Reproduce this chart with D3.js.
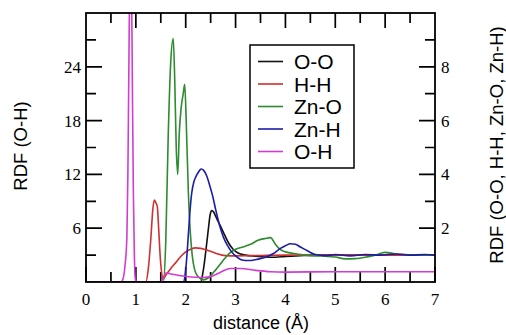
<!DOCTYPE html>
<html>
<head>
<meta charset="utf-8">
<script src="https://cdn.jsdelivr.net/npm/d3@7"></script>
<style>
  body { margin: 0; background: #fff; }
  svg { display: block; }
</style>
</head>
<body>
<div id="chart"></div>
<script>
// RDF curves (distance in Å)
var ohR = [0, 0.70, 0.74, 0.78, 0.82, 0.84, 0.86, 0.88, 0.91, 0.93, 0.95, 0.97, 0.99, 1.02, 1.50, 1.55, 1.60, 1.70, 1.90, 2.10, 2.30, 2.50, 2.70, 2.90, 3.10, 3.40, 3.70, 4.00, 5.00, 6.00, 7.00];
var ohG = [0, 0, 0.3, 1.7, 5, 12, 24, 34, 34, 22, 10, 3, 0.3, 0, 0, 0.5, 1.0, 0.9, 0.7, 0.55, 0.5, 0.6, 1.1, 1.5, 1.5, 1.3, 1.15, 1.1, 1.15, 1.15, 1.15];

var hhR = [0, 1.20, 1.25, 1.30, 1.34, 1.37, 1.40, 1.43, 1.46, 1.49, 1.52, 1.55, 1.60, 1.70, 1.80, 1.90, 2.00, 2.10, 2.20, 2.30, 2.45, 2.60, 2.80, 3.00, 3.30, 3.60, 4.00, 5.00, 6.00, 7.00];
var hhG = [0, 0, 0.5, 1.6, 2.7, 3.05, 2.95, 2.8, 1.9, 0.9, 0.3, 0.1, 0.25, 0.5, 0.72, 0.95, 1.12, 1.22, 1.27, 1.25, 1.17, 1.07, 0.98, 0.97, 0.98, 0.99, 1.0, 1.0, 1.0, 1.0];

var znoR = [0, 1.55, 1.60, 1.65, 1.70, 1.75, 1.78, 1.81, 1.84, 1.87, 1.91, 1.95, 1.98, 2.01, 2.05, 2.09, 2.13, 2.18, 2.25, 2.35, 2.45, 2.60, 2.75, 2.90, 3.00, 3.15, 3.30, 3.45, 3.60, 3.70, 3.80, 3.90, 4.00, 4.20, 4.40, 4.60, 4.80, 5.00, 5.20, 5.40, 5.60, 5.80, 6.00, 6.20, 6.40, 6.70, 7.00];
var znoG = [0, 0, 1.5, 5.5, 8.2, 9.05, 7.5, 5.0, 4.0, 5.5, 6.5, 7.0, 7.35, 6.0, 3.5, 1.9, 1.0, 0.45, 0.2, 0.08, 0.15, 0.45, 0.8, 1.1, 1.22, 1.3, 1.4, 1.55, 1.62, 1.65, 1.4, 1.2, 1.12, 1.05, 1.0, 0.97, 0.96, 0.93, 0.86, 0.87, 0.92, 1.0, 1.1, 1.05, 1.02, 1.0, 1.0];

var znhR = [0, 1.95, 2.00, 2.04, 2.08, 2.12, 2.16, 2.20, 2.26, 2.31, 2.36, 2.42, 2.48, 2.54, 2.60, 2.68, 2.76, 2.84, 2.92, 3.00, 3.10, 3.20, 3.30, 3.45, 3.60, 3.75, 3.90, 4.00, 4.10, 4.20, 4.30, 4.45, 4.60, 4.80, 5.00, 5.30, 5.60, 5.90, 6.20, 6.50, 6.80, 7.00];
var znhG = [0, 0, 0.45, 1.4, 2.5, 3.3, 3.7, 3.9, 4.1, 4.2, 4.15, 3.95, 3.6, 3.2, 2.7, 2.1, 1.65, 1.35, 1.12, 0.97, 0.84, 0.8, 0.8, 0.85, 0.92, 1.05, 1.25, 1.35, 1.42, 1.4, 1.3, 1.15, 1.02, 0.98, 1.02, 0.97, 1.02, 1.0, 1.04, 1.0, 1.02, 1.0];

var ooR = [0, 2.30, 2.35, 2.40, 2.45, 2.49, 2.52, 2.56, 2.60, 2.65, 2.70, 2.78, 2.86, 2.95, 3.05, 3.20, 3.40, 3.60, 3.80, 4.00, 4.30, 4.60, 5.00, 6.00, 7.00];
var ooG = [0, 0, 0.4, 1.1, 1.9, 2.5, 2.66, 2.6, 2.45, 2.25, 2.07, 1.75, 1.45, 1.22, 1.08, 1.0, 0.96, 0.93, 0.92, 0.95, 0.98, 1.0, 1.0, 1.0, 1.0];

var legendNames = ["O-O", "H-H", "Zn-O", "Zn-H", "O-H"];
var colors = ["#111111", "#d03030", "#2e8b2e", "#1c1ca8", "#d23cd2"];

var xMajor = [0, 1, 2, 3, 4, 5, 6, 7];
var xMinor = [0.5, 1.5, 2.5, 3.5, 4.5, 5.5, 6.5];
var yLeftMajor = [6, 12, 18, 24];
var yLeftMinor = [3, 9, 15, 21, 27];
var yRightMajor = [2, 4, 6, 8];
var yRightMinor = [1, 3, 5, 7, 9];

var m = {left: 86, right: 435, top: 13, bottom: 282};
var serifFont = "Liberation Serif, Times New Roman, Times, serif";
var sansFont = "Liberation Sans, Arial, Helvetica, sans-serif";

var svg = d3.select("#chart").append("svg")
    .attr("width", 506)
    .attr("height", 335);

var x = d3.scaleLinear().domain([0, 7]).range([m.left, m.right]);
var yL = d3.scaleLinear().domain([0, 30]).range([m.bottom, m.top]);
var yR = d3.scaleLinear().domain([0, 10]).range([m.bottom, m.top]);

// ticks as one path, built from the scales, pointing into the plot
var tp = d3.path();
function vTicks(vals, y0, len){
  vals.forEach(function(v){ tp.moveTo(x(v), y0); tp.lineTo(x(v), y0 + len); });
}
function hTicks(vals, scale, x0, len){
  vals.forEach(function(v){ tp.moveTo(x0, scale(v)); tp.lineTo(x0 + len, scale(v)); });
}
vTicks(xMajor, m.bottom, -15);
vTicks(xMinor, m.bottom, -10);
vTicks(xMajor.slice(1, 7), m.top, 15);
vTicks(xMinor, m.top, 10);
hTicks(yLeftMajor, yL, m.left, 16);
hTicks(yLeftMinor, yL, m.left, 10);
hTicks(yRightMajor, yR, m.right, -16);
hTicks(yRightMinor, yR, m.right, -10);

svg.append("path")
    .attr("d", tp.toString())
    .attr("fill", "none")
    .attr("stroke", "#000000")
    .attr("stroke-width", 1.7);

// curves (O-H on the left scale, the rest on the right scale)
svg.append("clipPath").attr("id", "plotclip")
  .append("rect")
    .attr("x", m.left).attr("y", m.top)
    .attr("width", m.right - m.left).attr("height", m.bottom - m.top);

var series = [
  {r: ooR, g: ooG, y: yR, c: colors[0]},
  {r: hhR, g: hhG, y: yR, c: colors[1]},
  {r: znoR, g: znoG, y: yR, c: colors[2]},
  {r: znhR, g: znhG, y: yR, c: colors[3]},
  {r: ohR, g: ohG, y: yL, c: colors[4]}
];

var curves = svg.append("g").attr("clip-path", "url(#plotclip)");
series.forEach(function(s){
  var path = d3.line()
      .x(function(d, i){ return x(s.r[i]); })
      .y(function(d, i){ return s.y(s.g[i]); })
      .curve(d3.curveMonotoneX);
  curves.append("path")
      .attr("d", path(s.r))
      .attr("fill", "none")
      .attr("stroke", s.c)
      .attr("stroke-width", 1.6)
      .attr("stroke-linejoin", "round");
});

// tick labels
function addLabels(vals, fx, fy, anchor, dy){
  svg.append("g").selectAll("text")
    .data(vals)
    .join("text")
      .attr("x", fx)
      .attr("y", fy)
      .attr("dy", dy)
      .attr("text-anchor", anchor)
      .attr("font-family", serifFont)
      .attr("font-size", 17)
      .attr("fill", "#000")
      .text(d3.format("d"));
}
addLabels(xMajor, function(d){ return x(d); }, 305, "middle", "0");
addLabels(yLeftMajor, m.left - 5, function(d){ return yL(d); }, "end", "0.35em");
addLabels(yRightMajor, m.right + 6, function(d){ return yR(d); }, "start", "0.35em");

// frame
svg.append("rect")
    .attr("x", m.left).attr("y", m.top)
    .attr("width", m.right - m.left).attr("height", m.bottom - m.top)
    .attr("fill", "none")
    .attr("stroke", "#000")
    .attr("stroke-width", 1.8);

// axis titles
svg.append("text")
    .attr("x", 261).attr("y", 329)
    .attr("text-anchor", "middle")
    .attr("font-family", sansFont).attr("font-size", 18)
    .text("distance (Å)");
svg.append("text")
    .attr("transform", "translate(27,146) rotate(-90)")
    .attr("text-anchor", "middle")
    .attr("font-family", sansFont).attr("font-size", 18.5)
    .text("RDF (O-H)");
svg.append("text")
    .attr("transform", "translate(503,145) rotate(-90)")
    .attr("text-anchor", "middle")
    .attr("font-family", sansFont).attr("font-size", 18.5)
    .text("RDF (O-O, H-H, Zn-O, Zn-H)");

// legend
var lg = svg.append("g");
lg.append("rect")
    .attr("x", 250).attr("y", 45)
    .attr("width", 104).attr("height", 123)
    .attr("fill", "#fff")
    .attr("stroke", "#000")
    .attr("stroke-width", 1.5);
var rows = lg.selectAll("g.row")
  .data(legendNames)
  .join("g")
    .attr("class", "row")
    .attr("transform", function(d, i){ return "translate(0," + (61.5 + i * 22.5) + ")"; });
rows.append("line")
    .attr("x1", 258).attr("x2", 283)
    .attr("stroke", function(d, i){ return colors[i]; })
    .attr("stroke-width", 1.6);
rows.append("text")
    .attr("x", 294).attr("dy", "0.36em")
    .attr("font-family", sansFont).attr("font-size", 21)
    .text(function(d){ return d; });
</script>
</body>
</html>
